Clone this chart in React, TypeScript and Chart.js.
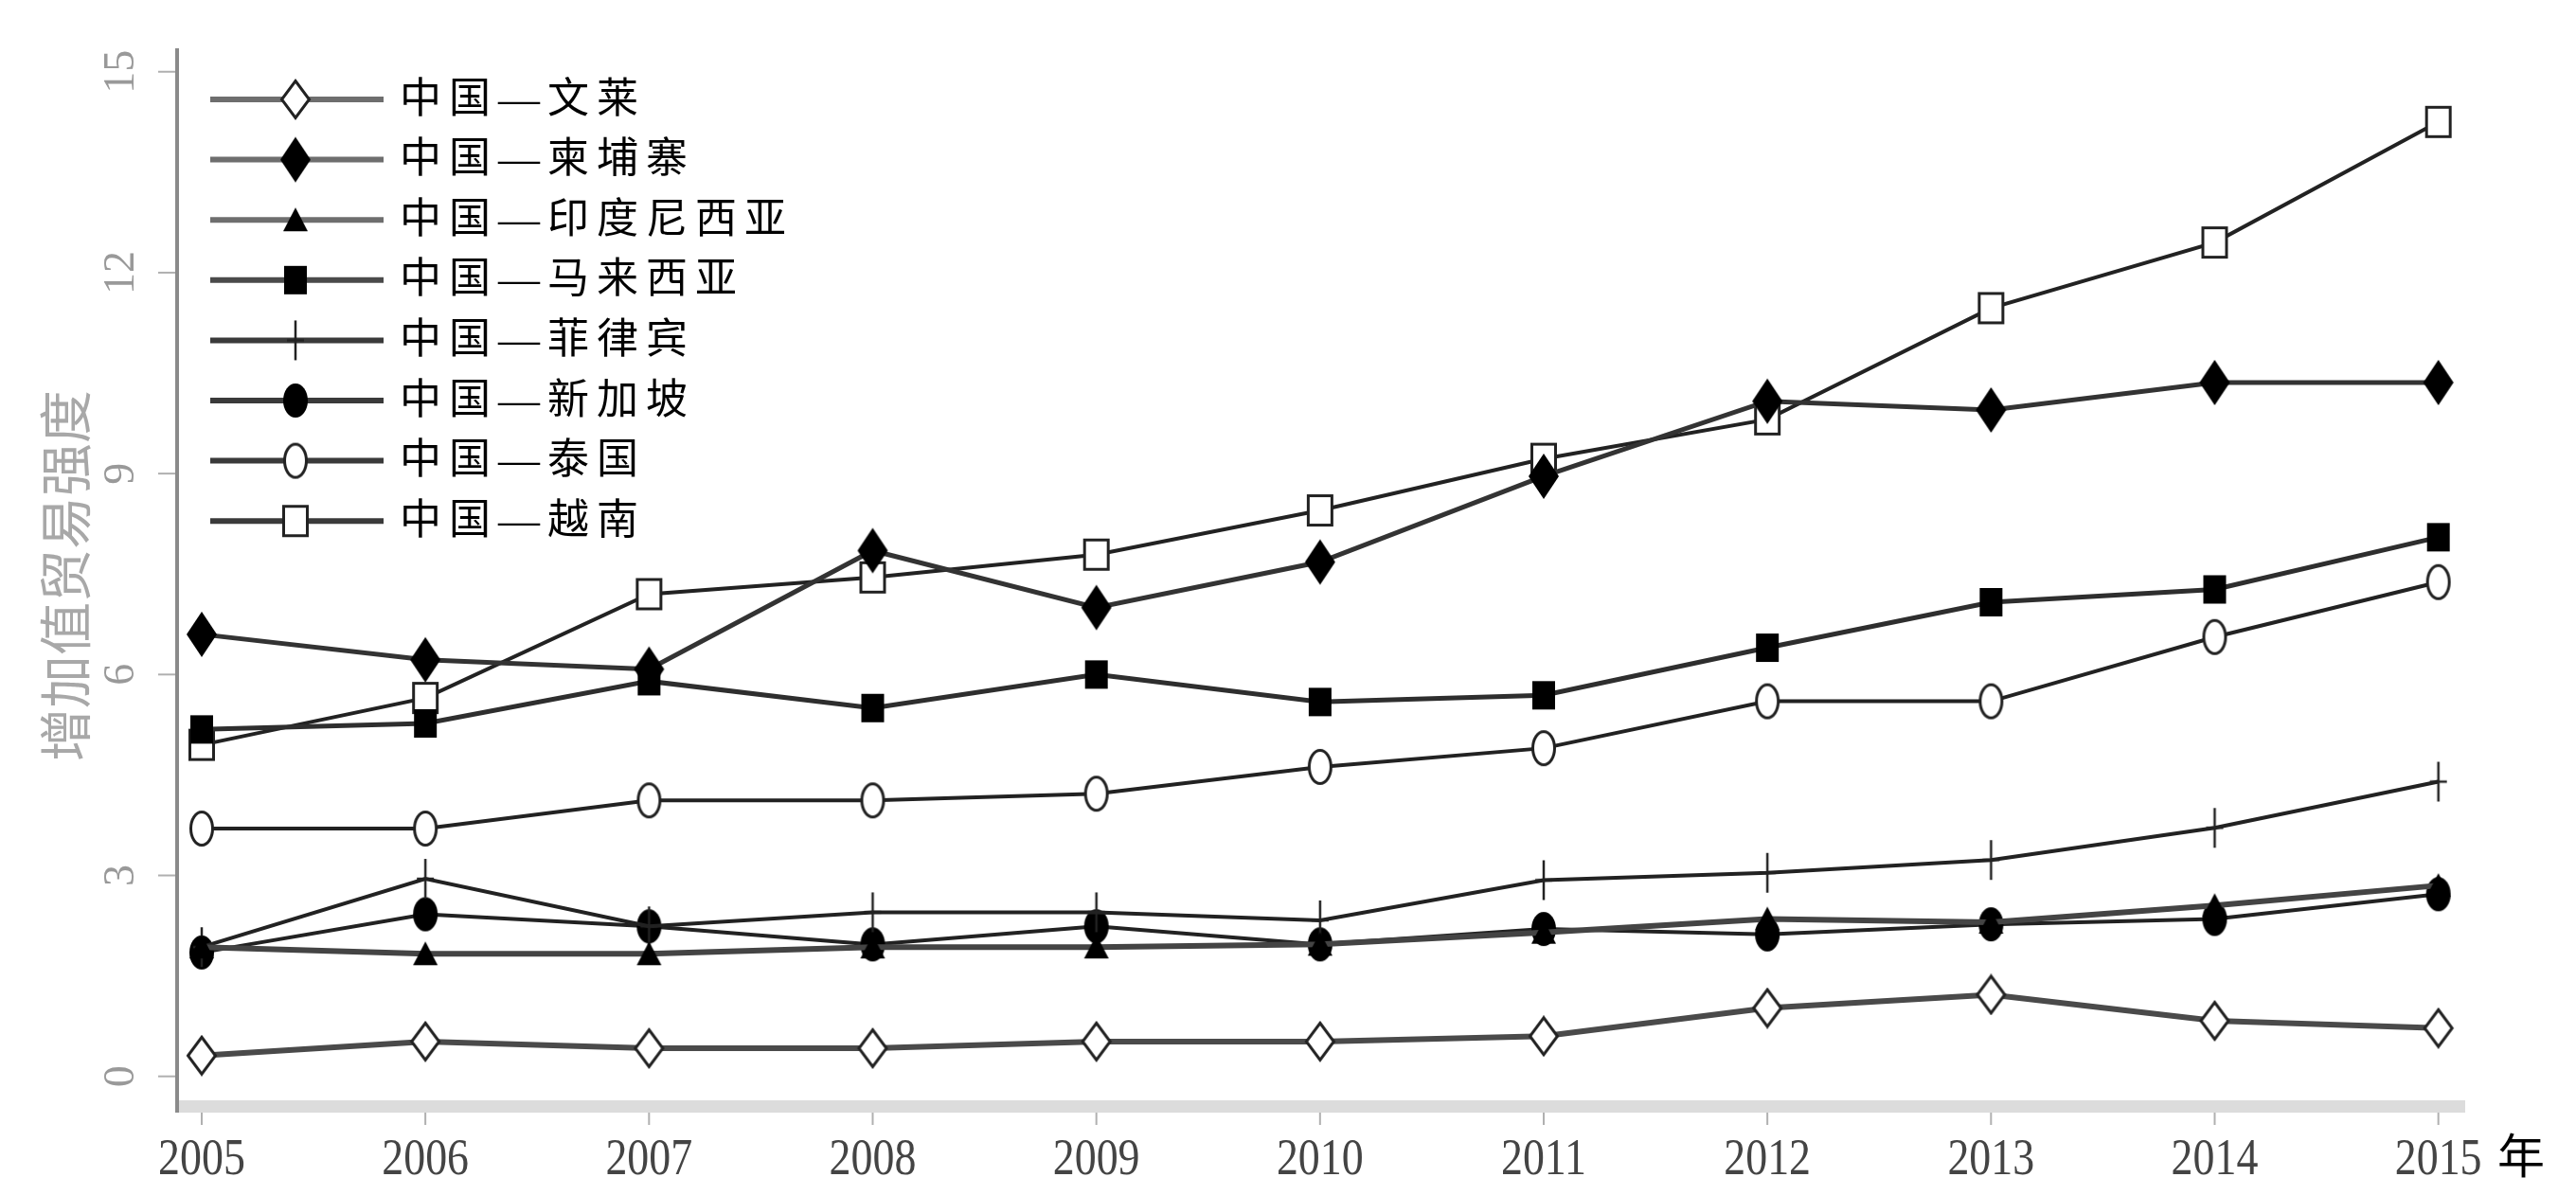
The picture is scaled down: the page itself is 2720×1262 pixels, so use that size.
import React, { useEffect, useRef } from "react";
import { Chart, registerables } from "chart.js";

Chart.register(...registerables);

const years = [2005, 2006, 2007, 2008, 2009, 2010, 2011, 2012, 2013, 2014, 2015];
const seriesNames = [
  "中国—文莱",
  "中国—柬埔寨",
  "中国—印度尼西亚",
  "中国—马来西亚",
  "中国—菲律宾",
  "中国—新加坡",
  "中国—泰国",
  "中国—越南",
];
const brunei = [0.31, 0.52, 0.42, 0.42, 0.52, 0.52, 0.6, 1.02, 1.22, 0.83, 0.72];
const cambodia = [6.6, 6.22, 6.08, 7.85, 7.0, 7.68, 8.96, 10.08, 9.95, 10.36, 10.36];
const indonesia = [1.93, 1.83, 1.83, 1.93, 1.93, 1.97, 2.15, 2.35, 2.3, 2.55, 2.85];
const malaysia = [5.18, 5.27, 5.9, 5.5, 6.0, 5.59, 5.69, 6.4, 7.08, 7.27, 8.05];
const philippines = [1.93, 2.95, 2.24, 2.45, 2.45, 2.33, 2.93, 3.04, 3.23, 3.71, 4.4];
const singapore = [1.85, 2.42, 2.24, 1.97, 2.24, 1.97, 2.2, 2.12, 2.27, 2.35, 2.72];
const thailand = [3.7, 3.7, 4.12, 4.12, 4.22, 4.62, 4.9, 5.6, 5.6, 6.56, 7.38];
const vietnam = [4.95, 5.65, 7.2, 7.45, 7.79, 8.45, 9.22, 9.81, 11.47, 12.45, 14.25];
const yTicks = [0, 3, 6, 9, 12, 15];
const yTitle = "增加值贸易强度";
const xUnit = "年";

const allSeries = [brunei, cambodia, indonesia, malaysia, philippines, singapore, thailand, vietnam];
const lineColors = ["#4a4a4a", "#333333", "#444444", "#2e2e2e", "#222222", "#222222", "#222222", "#222222"];
const lineWidths = [6, 5, 6, 5, 4, 4, 4, 4];

function mk(w: number, h: number, draw: (c: CanvasRenderingContext2D, w: number, h: number) => void) {
  const c = document.createElement("canvas");
  c.width = w;
  c.height = h;
  const ctx = c.getContext("2d")!;
  draw(ctx, w, h);
  return c;
}

function makeMarkers() {
  const diamondPath = (c: CanvasRenderingContext2D, w: number, h: number, p: number) => {
    c.beginPath();
    c.moveTo(w / 2, p);
    c.lineTo(w - p, h / 2);
    c.lineTo(w / 2, h - p);
    c.lineTo(p, h / 2);
    c.closePath();
  };
  const openDiamond = mk(34, 44, (c, w, h) => {
    diamondPath(c, w, h, 2.5);
    c.fillStyle = "#fff";
    c.fill();
    c.strokeStyle = "#222";
    c.lineWidth = 3;
    c.stroke();
  });
  const filledDiamond = mk(34, 50, (c, w, h) => {
    diamondPath(c, w, h, 1);
    c.fillStyle = "#000";
    c.fill();
  });
  const triangle = mk(28, 28, (c, w, h) => {
    c.beginPath();
    c.moveTo(w / 2, 1);
    c.lineTo(w - 1, h - 2);
    c.lineTo(1, h - 2);
    c.closePath();
    c.fillStyle = "#000";
    c.fill();
  });
  const filledSquare = mk(26, 32, (c, w, h) => {
    c.fillStyle = "#000";
    c.fillRect(1, 1, w - 2, h - 2);
  });
  const plus = mk(22, 44, (c, w, h) => {
    c.strokeStyle = "#222";
    c.lineWidth = 2.5;
    c.beginPath();
    c.moveTo(w / 2, 1);
    c.lineTo(w / 2, h - 1);
    c.moveTo(2, h / 2);
    c.lineTo(w - 2, h / 2);
    c.stroke();
  });
  const filledCircle = mk(28, 38, (c, w, h) => {
    c.beginPath();
    c.ellipse(w / 2, h / 2, w / 2 - 1, h / 2 - 1, 0, 0, Math.PI * 2);
    c.fillStyle = "#000";
    c.fill();
  });
  const openCircle = mk(28, 40, (c, w, h) => {
    c.beginPath();
    c.ellipse(w / 2, h / 2, w / 2 - 2.5, h / 2 - 2.5, 0, 0, Math.PI * 2);
    c.fillStyle = "#fff";
    c.fill();
    c.strokeStyle = "#222";
    c.lineWidth = 3;
    c.stroke();
  });
  const openSquare = mk(30, 36, (c, w, h) => {
    c.fillStyle = "#fff";
    c.fillRect(2, 2, w - 4, h - 4);
    c.strokeStyle = "#222";
    c.lineWidth = 3;
    c.strokeRect(2.5, 2.5, w - 5, h - 5);
  });
  return [openDiamond, filledDiamond, triangle, filledSquare, plus, filledCircle, openCircle, openSquare];
}

export default function App() {
  const ref = useRef<HTMLCanvasElement | null>(null);

  useEffect(() => {
    document.body.style.margin = "0";
    const canvas = ref.current;
    if (!canvas) return;
    const markers = makeMarkers();

    const datasets = allSeries.map((vals, i) => ({
      label: seriesNames[i],
      data: years.map((y, j) => ({ x: y, y: vals[j] })),
      borderColor: lineColors[i],
      borderWidth: lineWidths[i],
      pointStyle: markers[i] as any,
      pointRadius: 10,
      pointHoverRadius: 10,
      tension: 0,
      fill: false,
    }));

    const axesPlugin = {
      id: "customAxes",
      beforeDatasetsDraw(chart: any) {
        const ctx: CanvasRenderingContext2D = chart.ctx;
        const area = chart.chartArea;
        const xs = chart.scales.x;
        const ys = chart.scales.y;
        ctx.save();
        ctx.fillStyle = "#dcdcdc";
        ctx.fillRect(area.left, area.bottom - 3, area.right - area.left, 13);
        ctx.strokeStyle = "#8a8a8a";
        ctx.lineWidth = 4;
        ctx.beginPath();
        ctx.moveTo(area.left, area.top);
        ctx.lineTo(area.left, area.bottom + 10);
        ctx.stroke();
        ctx.strokeStyle = "#b0b0b0";
        ctx.lineWidth = 2;
        yTicks.forEach((v) => {
          const py = ys.getPixelForValue(v);
          ctx.beginPath();
          ctx.moveTo(area.left - 20, py);
          ctx.lineTo(area.left - 2, py);
          ctx.stroke();
        });
        years.forEach((yr) => {
          const px = xs.getPixelForValue(yr);
          ctx.beginPath();
          ctx.moveTo(px, area.bottom + 10);
          ctx.lineTo(px, area.bottom + 23);
          ctx.stroke();
        });
        ctx.fillStyle = "#999";
        ctx.font = '46px "Liberation Serif"';
        ctx.textAlign = "center";
        ctx.textBaseline = "middle";
        yTicks.forEach((v) => {
          const py = ys.getPixelForValue(v);
          ctx.save();
          ctx.translate(129, py);
          ctx.rotate(-Math.PI / 2);
          ctx.fillText(String(v), 0, 0);
          ctx.restore();
        });
        ctx.fillStyle = "#444";
        ctx.font = '54px "Liberation Serif"';
        years.forEach((yr) => {
          const px = xs.getPixelForValue(yr);
          ctx.save();
          ctx.translate(px, 1226);
          ctx.scale(0.85, 1);
          ctx.fillText(String(yr), 0, 0);
          ctx.restore();
        });
        ctx.fillStyle = "#000";
        ctx.font = '50px "Noto Sans CJK SC"';
        ctx.fillText(xUnit, 2662, 1220);
        ctx.save();
        ctx.translate(69, 608);
        ctx.rotate(-Math.PI / 2);
        ctx.fillStyle = "#a8a8a8";
        ctx.font = '56px "Noto Sans CJK SC"';
        ctx.fillText(yTitle, 0, 0);
        ctx.restore();
        ctx.restore();
      },
      afterDatasetsDraw(chart: any) {
        const ctx: CanvasRenderingContext2D = chart.ctx;
        ctx.save();
        const y0 = 105;
        const step = 63.6;
        seriesNames.forEach((name, i) => {
          const y = y0 + i * step;
          ctx.strokeStyle = i < 3 ? "#6e6e6e" : i === 3 ? "#4a4a4a" : "#3a3a3a";
          ctx.lineWidth = 6;
          ctx.beginPath();
          ctx.moveTo(222, y);
          ctx.lineTo(405, y);
          ctx.stroke();
          const m = markers[i];
          ctx.drawImage(m, 312 - m.width / 2, y - m.height / 2);
          ctx.fillStyle = "#000";
          ctx.font = '44px "Liberation Serif", "Noto Sans CJK SC"';
          (ctx as any).letterSpacing = "8px";
          ctx.textAlign = "left";
          ctx.textBaseline = "middle";
          ctx.fillText(name, 422, y + 2);
          (ctx as any).letterSpacing = "0px";
        });
        ctx.restore();
      },
    };

    const chart = new Chart(canvas, {
      type: "line",
      data: { datasets: datasets as any },
      options: {
        animation: false,
        responsive: false,
        devicePixelRatio: 1,
        layout: { padding: { left: 187, right: 117, top: 51, bottom: 97 } },
        plugins: { legend: { display: false }, tooltip: { enabled: false } },
        scales: {
          x: { type: "linear", display: false, min: 2004.89, max: 2015.12 },
          y: { type: "linear", display: false, min: -0.4, max: 15.35 },
        },
      },
      plugins: [axesPlugin],
    });
    return () => chart.destroy();
  }, []);

  return (
    <div style={{ position: "fixed", left: 0, top: 0, width: 2720, height: 1262, background: "#fff" }}>
      <canvas ref={ref} width={2720} height={1262} style={{ width: 2720, height: 1262, display: "block" }} />
    </div>
  );
}
